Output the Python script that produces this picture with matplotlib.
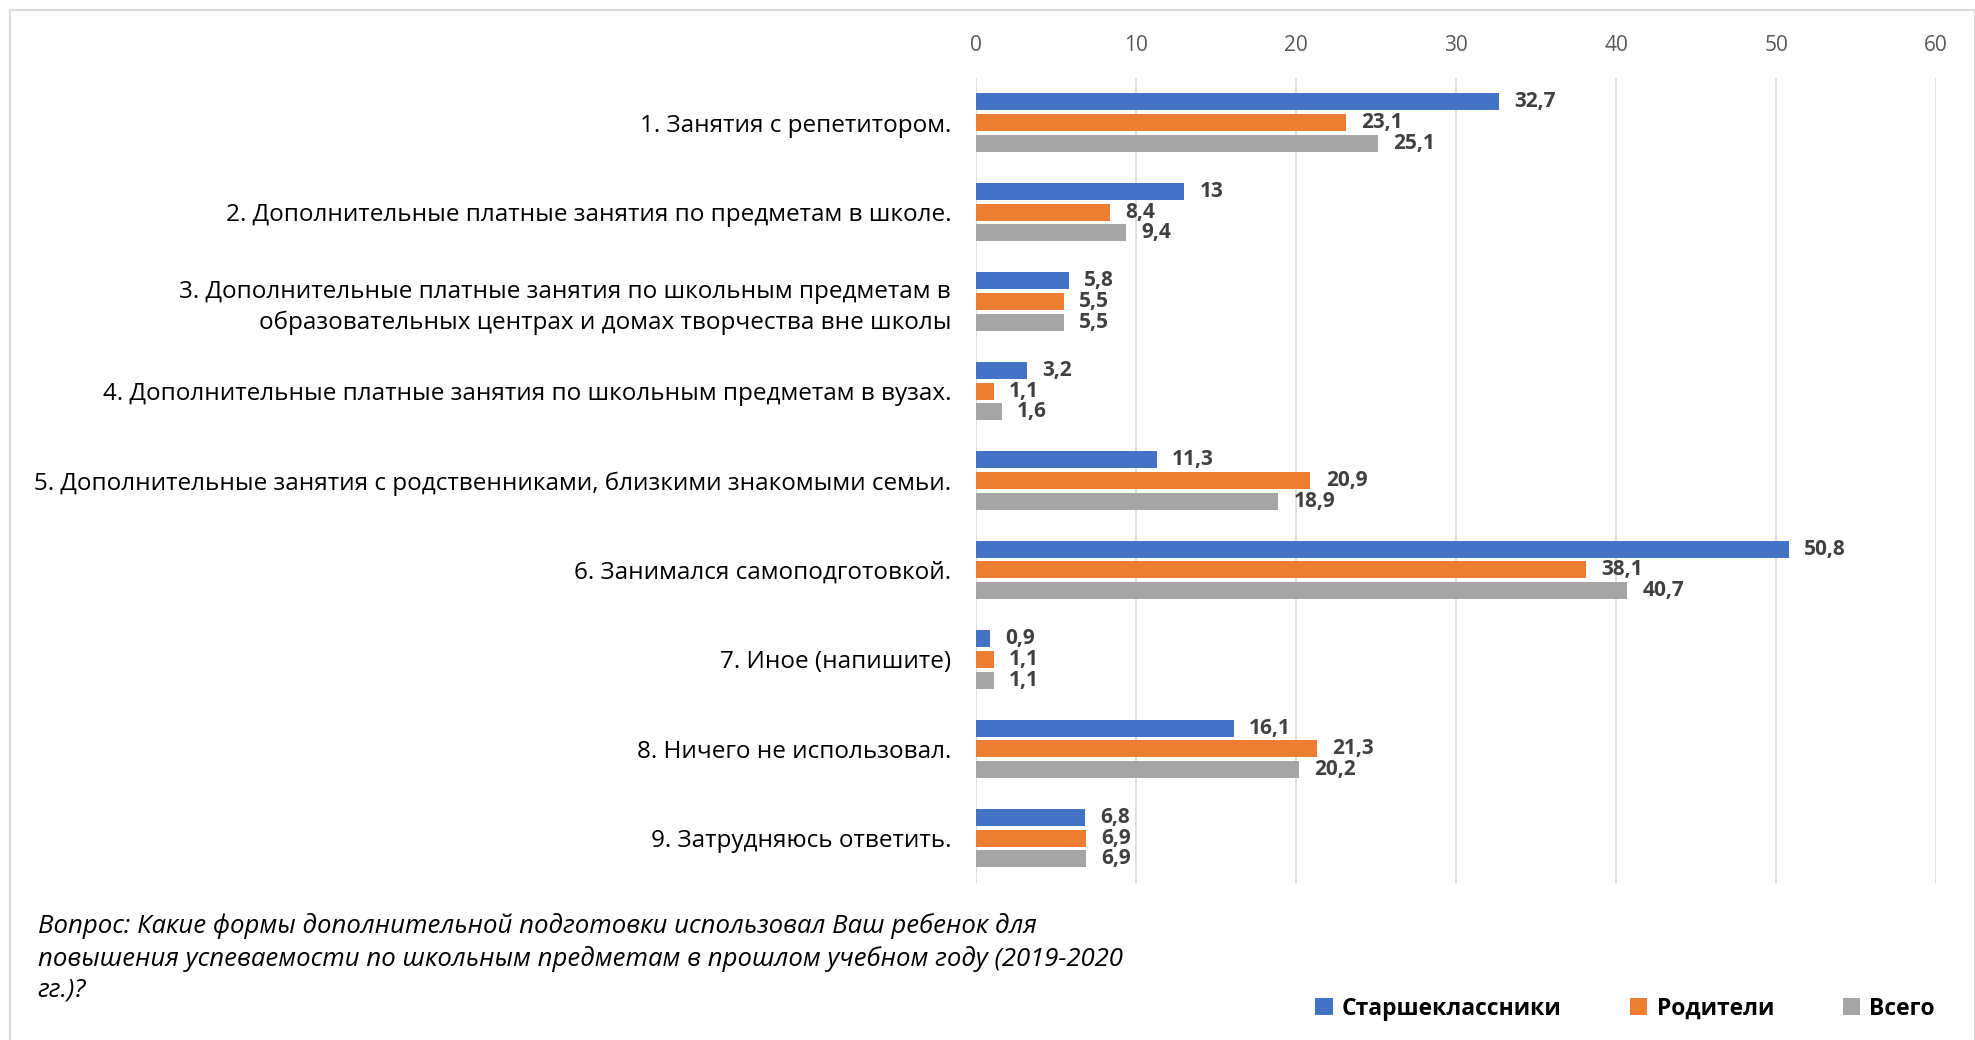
import matplotlib.pyplot as plt
import numpy as np
from matplotlib.patches import Rectangle

plt.rcParams['font.family'] = ['Open Sans', 'DejaVu Sans']

# данные
categories = [
    '1. Занятия с репетитором.',
    '2. Дополнительные платные занятия по предметам в школе.',
    '3. Дополнительные платные занятия по школьным предметам в\nобразовательных центрах и домах творчества вне школы',
    '4. Дополнительные платные занятия по школьным предметам в вузах.',
    '5. Дополнительные занятия с родственниками, близкими знакомыми семьи.',
    '6. Занимался самоподготовкой.',
    '7. Иное (напишите)',
    '8. Ничего не использовал.',
    '9. Затрудняюсь ответить.',
]
seniors = [32.7, 13, 5.8, 3.2, 11.3, 50.8, 0.9, 16.1, 6.8]
parents = [23.1, 8.4, 5.5, 1.1, 20.9, 38.1, 1.1, 21.3, 6.9]
total = [25.1, 9.4, 5.5, 1.6, 18.9, 40.7, 1.1, 20.2, 6.9]
series_names = ['Старшеклассники', 'Родители', 'Всего']
colors = ['#4472C4', '#ED7D31', '#A5A5A5']
xticks = [0, 10, 20, 30, 40, 50, 60]

question = ('Вопрос: Какие формы дополнительной подготовки использовал Ваш ребенок для\n'
            'повышения успеваемости по школьным предметам в прошлом учебном году (2019-2020\n'
            'гг.)?')

fig = plt.figure(figsize=(19.75, 10.4), dpi=100)
ax = fig.add_axes([0.4942, 0.151, 0.4861, 0.774])

y = np.arange(len(categories))
step = 0.232
handles = []
for i, (vals, name, col) in enumerate(zip([seniors, parents, total], series_names, colors)):
    bars = ax.barh(y + (i - 1) * step, vals, height=0.19, color=col, label=name, zorder=3)
    ax.bar_label(bars, labels=[('%g' % v).replace('.', ',') for v in vals],
                 padding=11, fontsize=15, fontweight='bold', color='#404040')
    handles.append(bars)

ax.set_ylim(8.5, -0.5)
ax.set_xlim(0, 60)
ax.set_xticks(xticks)
ax.xaxis.tick_top()
ax.tick_params(axis='x', length=0, pad=16, labelsize=15, labelcolor='#595959')
ax.set_yticks(y)
ax.set_yticklabels(categories, fontsize=17.5, color='#000000', linespacing=1.35)
ax.tick_params(axis='y', length=0, pad=18)
for lbl in ax.get_yticklabels():
    lbl.set_horizontalalignment('right')
ax.grid(axis='x', color='#D9D9D9', linewidth=1.2, zorder=0)
for s in ax.spines.values():
    s.set_visible(False)

# подпись с вопросом
fig.text(0.019, 0.079, question, fontsize=18.5, style='italic', va='center',
         ha='left', linespacing=1.32)

fig.legend(handles=handles, labels=series_names, loc='center right',
           bbox_to_anchor=(0.99, 0.03), ncol=3, frameon=False,
           prop={'size': 16.5, 'weight': 'bold'}, handlelength=0.75, handleheight=0.75,
           columnspacing=3.0, handletextpad=0.4)

# рамка
fig.patches.append(Rectangle((0.005, -0.05), 0.995, 1.04, transform=fig.transFigure,
                             fill=False, edgecolor='#D9D9D9', linewidth=1.5))

fig.savefig('out.png', dpi=100)
